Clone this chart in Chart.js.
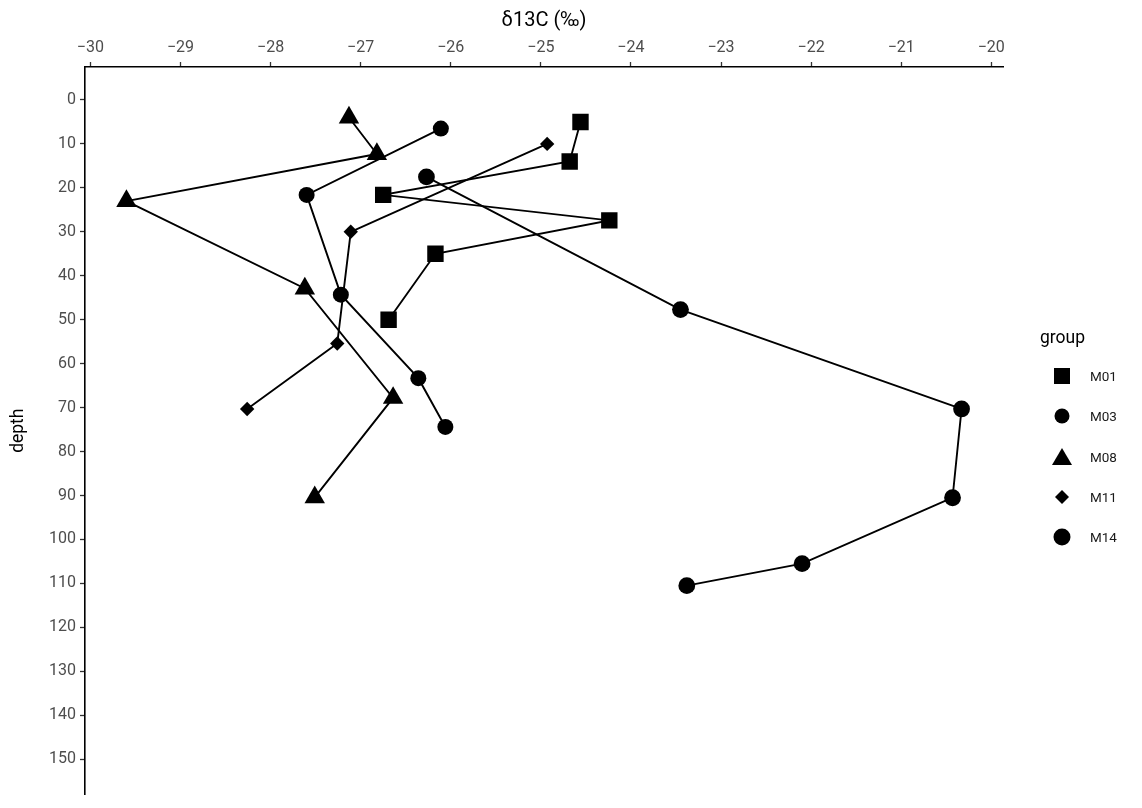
<!DOCTYPE html>
<html>
<head>
<meta charset="utf-8">
<script src="https://cdn.jsdelivr.net/npm/chart.js@4.4.1/dist/chart.umd.min.js"></script>
<style>
  html, body { margin: 0; padding: 0; background: #ffffff; }
  #wrap { position: relative; width: 1142px; height: 808px; }
  #c { position: absolute; left: 0; top: 0; }
  #legend { position: absolute; left: 0; top: 0; width: 1142px; height: 808px; pointer-events: none;
            font-family: Roboto, "Liberation Sans", sans-serif; }
  .lg-title { position: absolute; font-size: 17.5px; color: #000; line-height: 20px; }
  .lg-row { position: absolute; height: 24px; }
  .lg-row svg { position: absolute; left: 0; top: 0; }
  .lg-row span { position: absolute; font-size: 13.5px; color: #1a1a1a; line-height: 24px; white-space: nowrap; }
</style>
</head>
<body>
<div id="wrap">
  <canvas id="c" width="1142" height="808"></canvas>
  <div id="legend"></div>
</div>
<script>
// ---- data ----
const groups = ["M01", "M03", "M08", "M11", "M14"];

const m01_d13c  = [-24.56, -24.68, -26.75, -24.24, -26.17, -26.69];
const m01_depth = [5, 14, 21.6, 27.4, 35, 50];

const m03_d13c  = [-26.11, -27.60, -27.22, -26.36, -26.06];
const m03_depth = [6.5, 21.6, 44.3, 63.3, 74.4];

const m08_d13c  = [-27.13, -26.82, -29.60, -27.62, -26.64, -27.51];
const m08_depth = [4, 12.3, 23, 42.9, 67.8, 90.4];

const m11_d13c  = [-24.93, -27.11, -27.26, -28.26];
const m11_depth = [10, 30, 55.4, 70.3];

const m14_d13c  = [-26.27, -23.45, -20.33, -20.43, -22.10, -23.38];
const m14_depth = [17.5, 47.7, 70.3, 90.5, 105.5, 110.5];

const xTickValues = [-30, -29, -28, -27, -26, -25, -24, -23, -22, -21, -20];
const yTickValues = [0, 10, 20, 30, 40, 50, 60, 70, 80, 90, 100, 110, 120, 130, 140, 150];

const xTitle = "δ13C (‰)";
const yTitle = "depth";
const legendTitle = "group";

// ---- styling ----
const shapes = {
  M01: { style: "rect",     radius: 11.6 },
  M03: { style: "circle",   radius: 8.0 },
  M08: { style: "triangle", radius: 11.8 },
  M11: { style: "rectRot",  radius: 7.2 },
  M14: { style: "circle",   radius: 8.4 }
};

function pts(xs, ys) { return xs.map((v, i) => ({ x: v, y: ys[i] })); }

const series = {
  M01: pts(m01_d13c, m01_depth),
  M03: pts(m03_d13c, m03_depth),
  M08: pts(m08_d13c, m08_depth),
  M11: pts(m11_d13c, m11_depth),
  M14: pts(m14_d13c, m14_depth)
};

const datasets = groups.map(g => ({
  label: g,
  data: series[g],
  showLine: true,
  borderColor: "#000000",
  borderWidth: 1.9,
  backgroundColor: "#000000",
  pointBackgroundColor: "#000000",
  pointBorderColor: "#000000",
  pointBorderWidth: 0,
  pointStyle: shapes[g].style,
  pointRadius: shapes[g].radius,
  pointHoverRadius: shapes[g].radius,
  fill: false,
  tension: 0
}));

const fmt = v => (v < 0 ? "\u2212" + Math.abs(v) : String(v));

const chart = new Chart(document.getElementById("c"), {
  type: "scatter",
  data: { datasets },
  options: {
    responsive: false,
    animation: false,
    devicePixelRatio: 1,
    layout: { padding: { left: 0, right: 139, top: 0, bottom: 0 } },
    plugins: { legend: { display: false }, tooltip: { enabled: false } },
    scales: {
      x: {
        type: "linear",
        position: "top",
        min: -30.06,
        max: -19.87,
        afterBuildTicks: s => { s.ticks = xTickValues.map(v => ({ value: v })); },
        afterFit: s => { s.height = 67; },
        ticks: {
          color: "#4d4d4d",
          font: { family: "Roboto", size: 16 },
          padding: 4,
          maxRotation: 0,
          callback: v => fmt(v)
        },
        grid: { display: true, drawOnChartArea: false, drawTicks: true, tickLength: 5, tickColor: "#333333", tickWidth: 1.3 },
        border: { display: true, color: "#000000", width: 1.6 },
        title: { display: true, text: xTitle, color: "#000000", font: { family: "Roboto", size: 20 }, padding: { top: 9, bottom: 0 } }
      },
      y: {
        type: "linear",
        reverse: true,
        min: -7.5,
        max: 158,
        afterBuildTicks: s => { s.ticks = yTickValues.map(v => ({ value: v })); },
        afterFit: s => { s.width = 85; },
        ticks: {
          color: "#4d4d4d",
          font: { family: "Roboto", size: 16 },
          padding: 4,
          callback: v => fmt(v)
        },
        grid: { display: true, drawOnChartArea: false, drawTicks: true, tickLength: 5, tickColor: "#333333", tickWidth: 1.3 },
        border: { display: true, color: "#000000", width: 1.6 },
        title: { display: true, text: yTitle, color: "#000000", font: { family: "Roboto", size: 17.5 }, padding: { top: 8, bottom: 0 } }
      }
    }
  }
});

// ---- HTML legend built from the chart's datasets ----
(function buildLegend() {
  const box = document.getElementById("legend");
  const t = document.createElement("div");
  t.className = "lg-title";
  t.textContent = legendTitle;
  t.style.left = "1040px";
  t.style.top = "327px";
  box.appendChild(t);
  const startY = 376, stepY = 40.3, markerX = 1062, textX = 1090;
  chart.data.datasets.forEach((ds, i) => {
    const cy = startY + i * stepY;
    const row = document.createElement("div");
    row.className = "lg-row";
    row.style.left = (markerX - 12) + "px";
    row.style.top = (cy - 12) + "px";
    row.style.width = "100px";
    const ns = "http://www.w3.org/2000/svg";
    const svg = document.createElementNS(ns, "svg");
    svg.setAttribute("width", "24"); svg.setAttribute("height", "24");
    let el;
    const st = ds.pointStyle;
    if (st === "rect") {
      el = document.createElementNS(ns, "rect");
      el.setAttribute("x", 4); el.setAttribute("y", 4); el.setAttribute("width", 16); el.setAttribute("height", 16);
    } else if (st === "triangle") {
      el = document.createElementNS(ns, "polygon");
      el.setAttribute("points", "12,3 22,20 2,20");
    } else if (st === "rectRot") {
      el = document.createElementNS(ns, "polygon");
      el.setAttribute("points", "12,5 19,12 12,19 5,12");
    } else {
      el = document.createElementNS(ns, "circle");
      el.setAttribute("cx", 12); el.setAttribute("cy", 12);
      el.setAttribute("r", ds.label === "M14" ? 8.5 : 7.5);
    }
    el.setAttribute("fill", "#000");
    svg.appendChild(el);
    row.appendChild(svg);
    const sp = document.createElement("span");
    sp.textContent = ds.label;
    sp.style.left = (textX - markerX + 12) + "px";
    sp.style.top = "0px";
    row.appendChild(sp);
    box.appendChild(row);
  });
})();
</script>
</body>
</html>
